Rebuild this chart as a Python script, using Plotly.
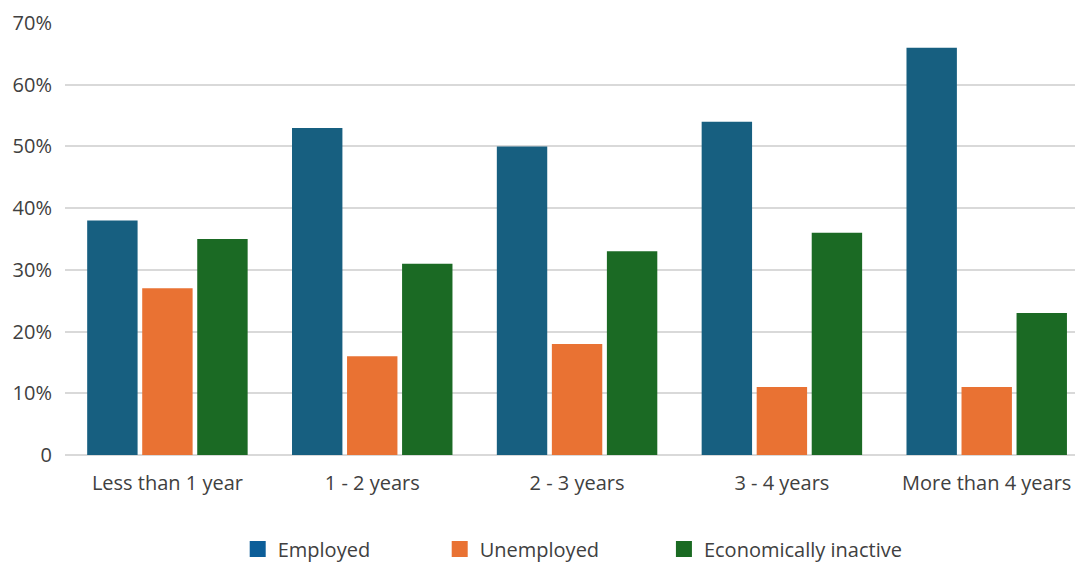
import plotly.graph_objects as go

categories = ["Less than 1 year", "1 - 2 years", "2 - 3 years", "3 - 4 years", "More than 4 years"]
employed = [38, 53, 50, 54, 66]
unemployed = [27, 16, 18, 11, 11]
inactive = [35, 31, 33, 36, 23]
series_names = ["Employed", "Unemployed", "Economically inactive"]
bar_colors = ["#175f80", "#e97233", "#1b6a24"]
legend_colors = ["#0c5e99", "#e97233", "#1a6a22"]
y_tickvals = [0, 10, 20, 30, 40, 50, 60, 70]
y_ticktext = ["0", "10%", "20%", "30%", "40%", "50%", "60%", "70%"]

FONT = "Open Sans"
TXT = "#404040"

fig = go.Figure()
for vals, name, col in zip([employed, unemployed, inactive], series_names, bar_colors):
    fig.add_trace(go.Bar(x=categories, y=vals, name=name, marker_color=col,
                         marker_line_width=0, showlegend=False,
                         hovertemplate="%{x}: %{y}%<extra>" + name + "</extra>"))

legend_ids = ["legend", "legend2", "legend3"]
for name, col, lg in zip(series_names, legend_colors, legend_ids):
    fig.add_trace(go.Scatter(x=[None], y=[None], mode="markers", name=name,
                             marker=dict(symbol="square", size=16, color=col),
                             legend=lg, showlegend=True))

leg_common = dict(orientation="h", yanchor="middle", y=-0.2176, xanchor="left",
                  font=dict(family=FONT, size=20, color=TXT), bgcolor="rgba(0,0,0,0)",
                  itemwidth=30, borderwidth=0)
fig.update_layout(
    width=1075, height=564,
    margin=dict(l=65, r=0, t=23, b=109, autoexpand=False),
    paper_bgcolor="white", plot_bgcolor="white",
    barmode="group", bargap=0.194, bargroupgap=0.084,
    font=dict(family=FONT, size=20, color=TXT),
    legend=dict(x=0.171, **leg_common),
    legend2=dict(x=0.371, **leg_common),
    legend3=dict(x=0.593, **leg_common),
    xaxis=dict(type="category", range=[-0.5, 4.431], showgrid=False, showline=False,
               zeroline=False, ticks="", tickfont=dict(family=FONT, size=20, color=TXT),
               ticklabelstandoff=14),
    yaxis=dict(range=[0, 70], tickvals=y_tickvals, ticktext=y_ticktext,
               showgrid=True, gridcolor="#d9d9d9", gridwidth=1.5,
               zeroline=True, zerolinecolor="#d9d9d9", zerolinewidth=1.5,
               showline=False, ticks="", ticklabelstandoff=12,
               tickfont=dict(family=FONT, size=20, color=TXT)),
)

fig.write_html("out.html", config={"displayModeBar": False},
               post_script="document.body.style.margin='0';document.body.style.overflow='hidden';")
